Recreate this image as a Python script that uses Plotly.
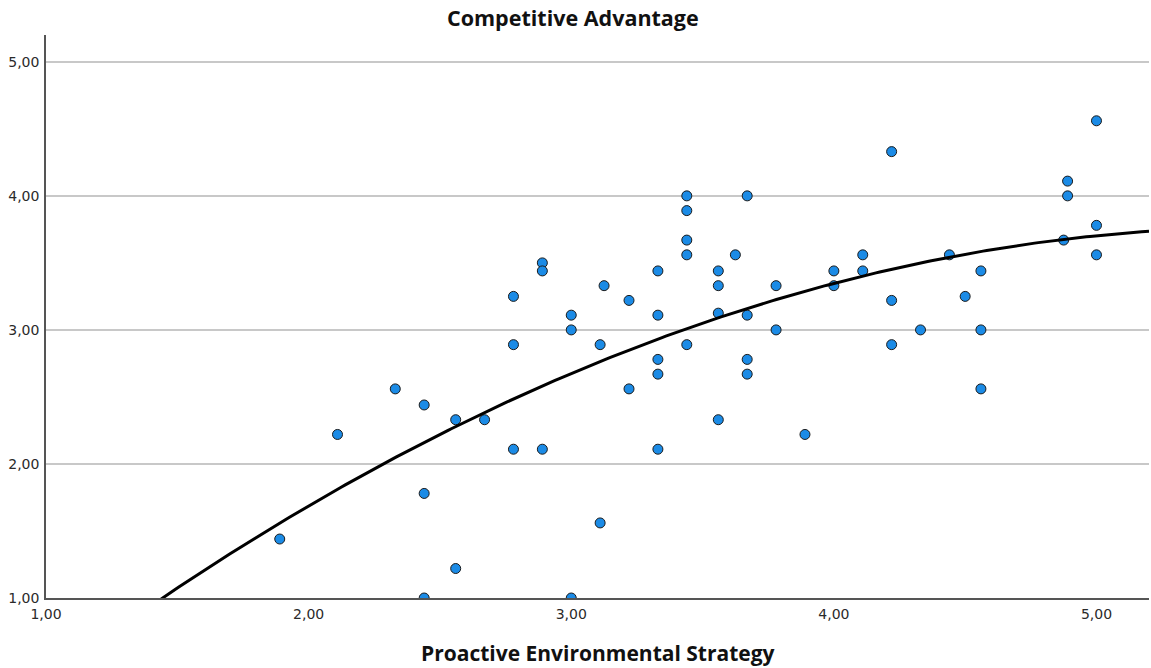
import numpy as np
import plotly.graph_objects as go

# Proactive Environmental Strategy (x) vs Competitive Advantage (y)
pes = [1.89, 2.11, 2.33, 2.44, 2.44, 2.44, 2.56, 2.56, 2.67, 2.78, 2.78, 2.78,
       2.89, 2.89, 2.89, 3.00, 3.00, 3.00, 3.11, 3.11, 3.125, 3.22, 3.22,
       3.33, 3.33, 3.33, 3.33, 3.33, 3.44, 3.44, 3.44, 3.44, 3.44,
       3.56, 3.56, 3.56, 3.56, 3.625, 3.67, 3.67, 3.67, 3.67, 3.78, 3.78,
       3.89, 4.00, 4.00, 4.11, 4.11, 4.22, 4.22, 4.22, 4.33, 4.44, 4.50,
       4.56, 4.56, 4.56, 4.875, 4.89, 4.89, 5.00, 5.00, 5.00]
ca = [1.44, 2.22, 2.56, 2.44, 1.78, 1.00, 2.33, 1.22, 2.33, 3.25, 2.89, 2.11,
      3.50, 3.44, 2.11, 3.11, 3.00, 1.00, 2.89, 1.56, 3.33, 3.22, 2.56,
      3.44, 3.11, 2.78, 2.67, 2.11, 4.00, 3.89, 3.67, 3.56, 2.89,
      3.44, 3.33, 3.125, 2.33, 3.56, 4.00, 3.11, 2.78, 2.67, 3.33, 3.00,
      2.22, 3.44, 3.33, 3.56, 3.44, 4.33, 3.22, 2.89, 3.00, 3.56, 3.25,
      3.44, 3.00, 2.56, 3.67, 4.11, 4.00, 4.56, 3.78, 3.56]

x_ticks = [1, 2, 3, 4, 5]
y_ticks = [1, 2, 3, 4, 5]
x_range = [1.0, 5.2]
y_range = [1.0, 5.2]

title_text = "Competitive Advantage"
xtitle_text = "Proactive Environmental Strategy"

# quadratic fit line, as drawn by the stats package
coef = np.polyfit(pes, ca, 2)
xs = np.linspace(x_range[0], x_range[1], 300)
ys = np.polyval(coef, xs)

fig = go.Figure()
fig.add_trace(go.Scatter(
    x=pes, y=ca, mode="markers",
    marker=dict(size=10, color="#1b8be6",
                line=dict(color="#1b1b1b", width=1)),
    cliponaxis=True, showlegend=False, hoverinfo="skip"))
fig.add_trace(go.Scatter(
    x=xs, y=ys, mode="lines",
    line=dict(color="#000000", width=3),
    showlegend=False, hoverinfo="skip"))

L, R, T, B = 46, 2, 35, 70
W, H = 1151, 668
pw = W - L - R
ph = H - T - B

fig.update_layout(
    width=W, height=H,
    margin=dict(l=L, r=R, t=T, b=B),
    paper_bgcolor="white", plot_bgcolor="white",
    separators=",.",
    font=dict(family="DejaVu Sans", size=14, color="#222222"),
)
fig.add_annotation(text="<b>" + title_text + "</b>",
                   x=(573 - L) / pw, y=(H - B - 18) / ph, xref="paper", yref="paper",
                   xanchor="center", yanchor="middle", showarrow=False,
                   font=dict(family="Open Sans", size=21.5, color="#111111"))
fig.add_annotation(text="<b>" + xtitle_text + "</b>",
                   x=0.5, y=-(653 - (H - B)) / ph, xref="paper", yref="paper",
                   xanchor="center", yanchor="middle", showarrow=False,
                   font=dict(family="Open Sans", size=21, color="#111111"))

fig.update_xaxes(range=x_range, tickvals=x_ticks, tickformat=".2f",
                 showgrid=False, zeroline=False,
                 showline=True, linecolor="#555555", linewidth=1.5,
                 ticks="", ticklabelstandoff=2,
                 tickfont=dict(size=14, color="#2a2a2a"))
fig.update_yaxes(range=y_range, tickvals=y_ticks, tickformat=".2f",
                 showgrid=True, gridcolor="#c8c8c8", gridwidth=1.5,
                 zeroline=False,
                 showline=True, linecolor="#555555", linewidth=1.5,
                 ticks="", ticklabelstandoff=2,
                 tickfont=dict(size=14, color="#2a2a2a"))

fig.write_html("out.html",
               config={"displayModeBar": False},
               post_script="document.body.style.margin='0';document.body.style.padding='0';")
